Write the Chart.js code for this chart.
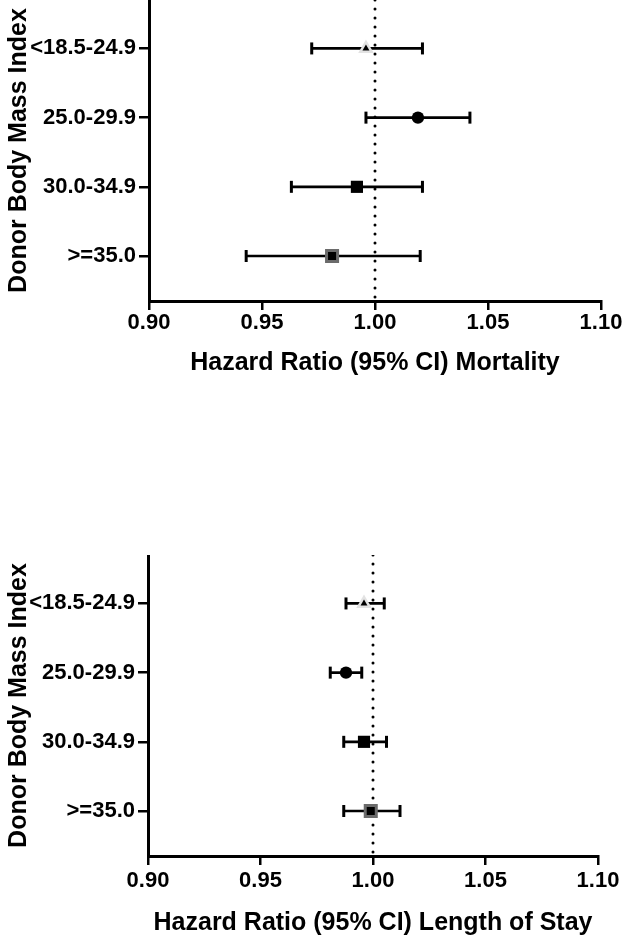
<!DOCTYPE html>
<html>
<head>
<meta charset="utf-8">
<script src="https://cdn.jsdelivr.net/npm/chart.js@4.4.0/dist/chart.umd.min.js"></script>
<style>
  html, body { margin: 0; padding: 0; background: #fff; }
  .box { position: absolute; left: 0; width: 622px; height: 400px; }
</style>
</head>
<body>
<div class="box" style="top:0"><canvas id="mort"></canvas></div>
<div class="box" style="top:555px"><canvas id="los"></canvas></div>
<script>
// data
const bmiGroups = ['<18.5-24.9', '25.0-29.9', '30.0-34.9', '>=35.0'];
const xTickValues = [0.90, 0.95, 1.00, 1.05, 1.10];
const refValue = 1.00;

const mortalityHR   = [0.996, 1.019, 0.992, 0.981];
const mortalityLow  = [0.972, 0.996, 0.963, 0.943];
const mortalityHigh = [1.021, 1.042, 1.021, 1.020];

const losHR   = [0.996, 0.988, 0.996, 0.999];
const losLow  = [0.988, 0.981, 0.987, 0.987];
const losHigh = [1.005, 0.995, 1.006, 1.012];

const FONT = "'Liberation Sans', Arial, Helvetica, sans-serif";
const Y_MIN = 0.30, Y_MAX = 4.65;

function noPad(s) {
  s.paddingTop = 0; s.paddingBottom = 0; s.paddingLeft = 0; s.paddingRight = 0;
  if (s._margins) { s._margins.top = 0; s._margins.bottom = 0; s._margins.left = 0; s._margins.right = 0; }
}

function makeForest(id, hr, low, high, title, o) {
  const datasets = [];

  // dotted reference line at HR = 1
  datasets.push({
    type: 'line',
    data: [{ x: refValue, y: Y_MIN }, { x: refValue, y: Y_MAX }],
    borderColor: '#000',
    borderWidth: 3,
    borderDash: [0.1, 8.9],
    borderCapStyle: 'round',
    pointRadius: 0,
    order: 10
  });

  // confidence intervals with end caps
  bmiGroups.forEach((g, i) => {
    datasets.push({
      type: 'line',
      data: [{ x: low[i], y: i + 1 }, { x: high[i], y: i + 1 }],
      borderColor: '#000',
      borderWidth: 2.7,
      pointStyle: 'line',
      pointRotation: 90,
      pointRadius: 6,
      pointBorderWidth: 3,
      pointBorderColor: '#000',
      order: 5
    });
  });

  // point estimates
  const pts = hr.map((v, i) => ({ x: v, y: i + 1 }));
  datasets.push({
    type: 'scatter',
    data: pts,
    pointStyle: ['triangle', 'circle', 'rect', 'rect'],
    pointRadius: [9, 6.2, 8.6, 7.8],
    backgroundColor: ['#e3e3e3', '#000', '#000', '#000'],
    borderColor: ['#e3e3e3', '#000', '#000', '#6b6b6b'],
    borderWidth: [0, 0, 0, 3],
    order: 2
  });
  // small black triangle inside the grey one
  datasets.push({
    type: 'scatter',
    data: [pts[0]],
    pointStyle: 'triangle',
    pointRadius: 4,
    backgroundColor: '#000',
    borderWidth: 0,
    order: 1
  });

  return new Chart(document.getElementById(id), {
    type: 'scatter',
    data: { datasets },
    options: {
      responsive: true,
      maintainAspectRatio: false,
      animation: false,
      events: [],
      layout: { autoPadding: false, padding: { top: 0, right: o.padRight, bottom: 0, left: 0 } },
      plugins: { legend: { display: false }, tooltip: { enabled: false } },
      scales: {
        x: {
          type: 'linear',
          min: xTickValues[0],
          max: xTickValues[xTickValues.length - 1],
          afterFit: s => { s.height = 99; noPad(s); },
          afterBuildTicks: s => { s.ticks = xTickValues.map(v => ({ value: v })); },
          border: { display: true, color: '#000', width: 3 },
          grid: { drawOnChartArea: false, drawTicks: true, tickLength: 9, color: '#000', lineWidth: 2.5 },
          ticks: {
            color: '#000',
            padding: o.tickPad,
            maxRotation: 0,
            font: { family: FONT, size: 22, weight: 'bold' },
            callback: v => Number(v).toFixed(2)
          },
          title: {
            display: true,
            text: title,
            color: '#000',
            font: { family: FONT, size: 25, weight: 'bold' },
            padding: { top: 4, bottom: o.titlePad }
          }
        },
        y: {
          type: 'linear',
          reverse: true,
          min: Y_MIN,
          max: Y_MAX,
          afterFit: s => { s.width = o.axisW; noPad(s); },
          afterBuildTicks: s => { s.ticks = bmiGroups.map((g, i) => ({ value: i + 1 })); },
          border: { display: true, color: '#000', width: 3 },
          grid: { drawOnChartArea: false, drawTicks: true, tickLength: 10, color: '#000', lineWidth: 2.5 },
          ticks: {
            color: '#000',
            padding: 3,
            font: { family: FONT, size: 22, weight: 'bold' },
            callback: v => bmiGroups[Math.round(v) - 1]
          },
          title: {
            display: true,
            text: 'Donor Body Mass Index',
            color: '#000',
            font: { family: FONT, size: 25, weight: 'bold' },
            padding: { top: 4, bottom: 4 }
          }
        }
      }
    }
  });
}

makeForest('mort', mortalityHR, mortalityLow, mortalityHigh, 'Hazard Ratio (95% CI) Mortality',
  { axisW: 149, padRight: 21, tickPad: 0, titlePad: 22 });
makeForest('los', losHR, losLow, losHigh, 'Hazard Ratio (95% CI) Length of Stay',
  { axisW: 148, padRight: 24, tickPad: 3, titlePad: 17 });
</script>
</body>
</html>
